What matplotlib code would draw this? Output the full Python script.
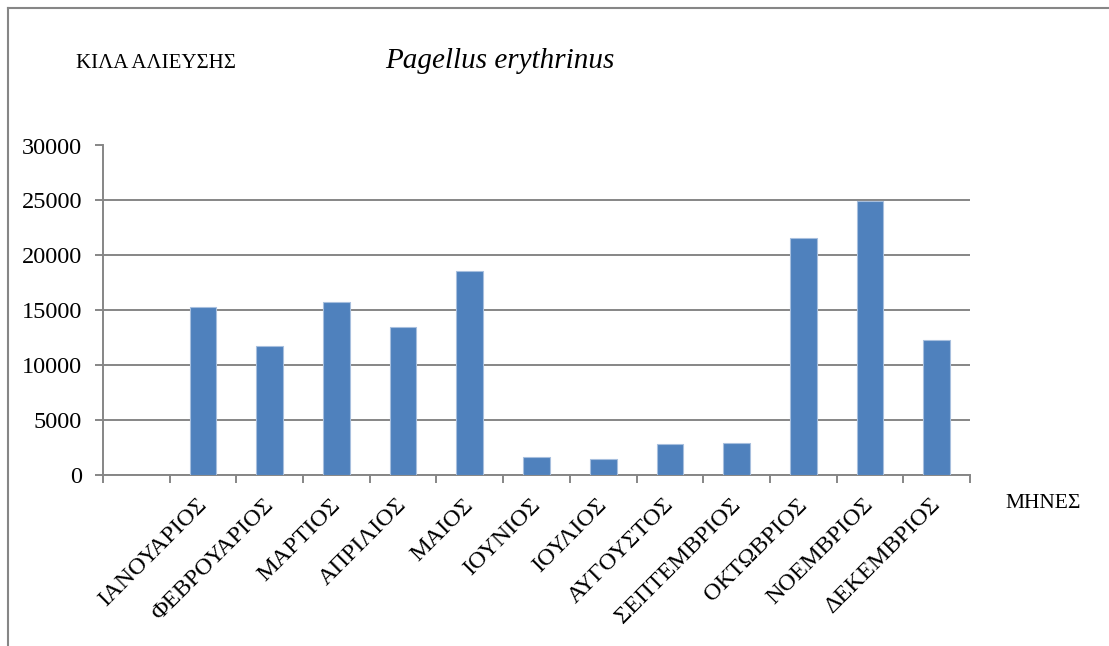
import matplotlib
matplotlib.use("Agg")
import matplotlib.pyplot as plt
import matplotlib.transforms as mtransforms
from matplotlib.lines import Line2D
import numpy as np

# Data (kg caught per month)
months = ["ΙΑΝΟΥΑΡΙΟΣ", "ΦΕΒΡΟΥΑΡΙΟΣ", "ΜΑΡΤΙΟΣ", "ΑΠΡΙΛΙΟΣ", "ΜΑΙΟΣ", "ΙΟΥΝΙΟΣ",
          "ΙΟΥΛΙΟΣ", "ΑΥΓΟΥΣΤΟΣ", "ΣΕΠΤΕΜΒΡΙΟΣ", "ΟΚΤΩΒΡΙΟΣ", "ΝΟΕΜΒΡΙΟΣ", "ΔΕΚΕΜΒΡΙΟΣ"]
catch_kg = [15330, 11750, 15750, 13430, 18550, 1610,
            1430, 2780, 2890, 21620, 24980, 12270]
y_ticks = [0, 5000, 10000, 15000, 20000, 25000, 30000]

# first category slot of the original chart is empty
categories = [""] + months

plt.rcParams["font.family"] = ["Liberation Serif", "DejaVu Serif"]
grey = "#868686"
bar_color = "#4F81BD"

fig = plt.figure(figsize=(11.09, 6.46), dpi=100)
ax = fig.add_axes([103 / 1109, 1 - 475 / 646, 867 / 1109, 329.5 / 646])

x = np.arange(1, len(months) + 1)
ax.bar(x, catch_kg, width=0.4, color=bar_color, edgecolor="#A7BFDE", linewidth=0.8, zorder=3)

ax.set_xlim(-0.5, len(categories) - 0.5)
ax.set_ylim(0, 30000)
ax.set_yticks(y_ticks)
ax.set_yticklabels([str(v) for v in y_ticks], fontsize=17.5)
ax.yaxis.grid(True, color=grey, linewidth=1.4, zorder=0)
ax.tick_params(axis="y", length=6, width=1.4, color=grey, pad=9)

# category labels at the centres, tick marks at the borders
ax.set_xticks(np.arange(len(categories)))
ax.set_xticklabels(categories, rotation=45, ha="right", rotation_mode="anchor", fontsize=17.5)
ax.tick_params(axis="x", which="major", length=0, pad=14)
ax.set_xticks(np.arange(len(categories) + 1) - 0.5, minor=True)
ax.tick_params(axis="x", which="minor", length=6, width=1.4, color=grey)

# nudge the rotated labels a little to the left, like the original
shift = mtransforms.ScaledTranslation(-7 / 100, 0, fig.dpi_scale_trans)
for lbl in ax.get_xticklabels():
    lbl.set_transform(lbl.get_transform() + shift)

for side in ["top", "right"]:
    ax.spines[side].set_visible(False)
for side in ["left", "bottom"]:
    ax.spines[side].set_color(grey)
    ax.spines[side].set_linewidth(1.4)

# texts around the plot
fig.text(76 / 1109, 1 - 63 / 646, "ΚΙΛΑ ΑΛΙΕΥΣΗΣ", fontsize=15, va="center", ha="left")
fig.text(385 / 1109, 1 - 61 / 646, "Pagellus erythrinus", fontsize=21, style="italic",
         va="center", ha="left")
fig.text(1005 / 1109, 1 - 503 / 646, "ΜΗΝΕΣ", fontsize=15.5, va="center", ha="left")

# outer chart frame (top and left edges visible)
fig.add_artist(Line2D([8 / 1109, 1.0], [1 - 8 / 646, 1 - 8 / 646], color=grey, linewidth=1.5))
fig.add_artist(Line2D([8 / 1109, 8 / 1109], [0, 1 - 8 / 646], color=grey, linewidth=1.5))

fig.savefig("out.png", dpi=100)
